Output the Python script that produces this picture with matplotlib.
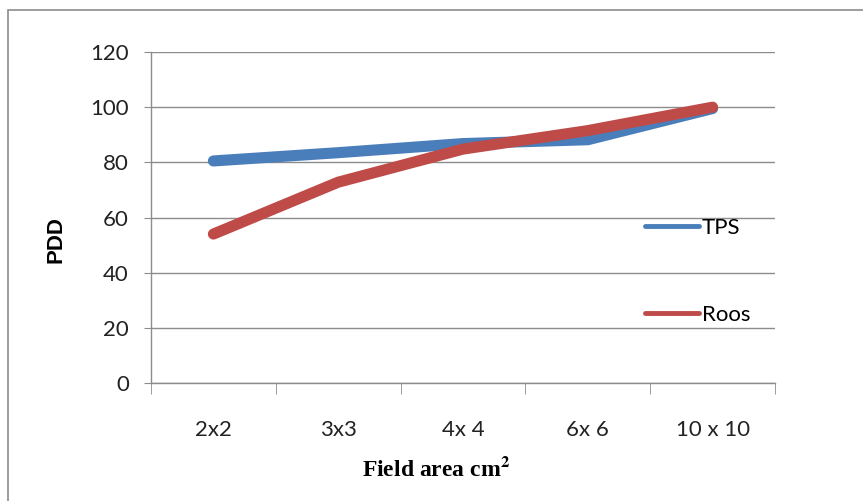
import numpy as np
import matplotlib.pyplot as plt
from matplotlib.patches import Rectangle

# data
categories = ['2x2', '3x3', '4x 4', '6x 6', '10 x 10']
tps = [80.5, 83.5, 86.8, 88.2, 99.5]
roos = [54, 72.8, 84.8, 91.5, 100]
y_ticks = [0, 20, 40, 60, 80, 100, 120]

plt.rcParams['font.family'] = ['Lato', 'DejaVu Sans']
plt.rcParams['mathtext.fontset'] = 'stix'

fig = plt.figure(figsize=(8.63, 5.01), dpi=100)
ax = fig.add_axes([151 / 863, 1 - 383 / 501, 624 / 863, 331 / 501])

# outer frame around the chart
fig.patches.append(Rectangle((8 / 863, -0.05), 1.2, 1 - 10 / 501 + 0.05,
                             transform=fig.transFigure, fill=False,
                             edgecolor='#8c8c8c', linewidth=1.2))

x = np.arange(len(categories)) + 0.5
ax.plot(x, tps, color='#4A7EBB', linewidth=8, solid_capstyle='round',
        solid_joinstyle='round', label='TPS', zorder=3)
ax.plot(x, roos, color='#BE4B48', linewidth=8, solid_capstyle='round',
        solid_joinstyle='round', label='Roos', zorder=4)

ax.set_xlim(0, len(categories))
ax.set_ylim(0, 120)
ax.set_yticks(y_ticks)
ax.set_xticks(x)
ax.set_xticklabels(categories)
ax.set_xticks(np.arange(len(categories) + 1), minor=True)

ax.grid(axis='y', color='#8c8c8c', linewidth=1)
ax.set_axisbelow(True)
for s in ['top', 'right']:
    ax.spines[s].set_visible(False)
for s in ['left', 'bottom']:
    ax.spines[s].set_color('#8c8c8c')
    ax.spines[s].set_linewidth(1)

ax.tick_params(axis='y', length=5, color='#8c8c8c', pad=11,
               labelsize=16, labelcolor='#222222')
ax.tick_params(axis='x', which='major', length=0, pad=27,
               labelsize=16, labelcolor='#222222')
ax.tick_params(axis='x', which='minor', length=8, color='#8c8c8c')

fig.text(56 / 863, 1 - 240 / 501, 'PDD', rotation=90, ha='center', va='center',
         fontsize=16, fontweight='bold', family=['Liberation Sans'])
fig.text(436 / 863, 1 - 469 / 501, r'Field area cm$^{\mathbf{2}}$',
         ha='center', va='center', fontsize=17, fontweight='bold',
         family=['Liberation Serif'])

leg = ax.legend(loc='upper left', bbox_to_anchor=(485 / 624, (383 - 209) / 331),
                frameon=False, fontsize=16, handlelength=2.45, handletextpad=0.1,
                labelspacing=3.0, borderaxespad=0)
for h in leg.get_lines():
    h.set_linewidth(3.5)

fig.savefig('out.png', dpi=100)
